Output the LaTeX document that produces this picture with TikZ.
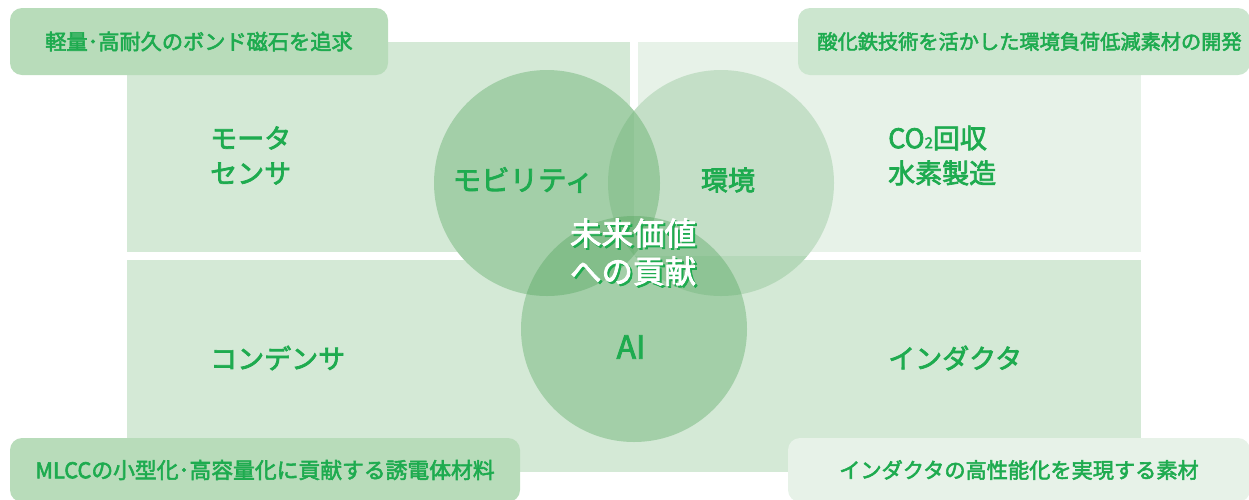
\documentclass[tikz,border=0pt]{standalone}
\usepackage{fontspec}
\setmainfont{Noto Sans CJK JP}
\newfontfamily\medjp{Noto Sans CJK JP}[FakeBold=2.6]
\definecolor{bgA}{HTML}{D4E9D6}
\definecolor{bgB}{HTML}{E7F2E8}
\definecolor{boxA}{HTML}{B8DCBA}
\definecolor{boxB}{HTML}{CCE6CF}
\definecolor{boxC}{HTML}{E7F2E8}
\definecolor{circ}{RGB}{72,159,83}
\definecolor{txt}{HTML}{1EAB4F}
\tikzset{
  tagbox/.style={rounded corners=12pt, inner sep=0pt, text=txt,
    font=\medjp\fontsize{21.2}{24}\selectfont},
  ring/.style={circle, inner sep=0pt, minimum size=226pt, fill=circ, draw=none},
  lbl/.style={text=txt, inner sep=0pt, font=\medjp\fontsize{27}{35}\selectfont, align=left},
  mid/.style={inner sep=0pt, font=\medjp\fontsize{31.5}{38}\selectfont, align=center}
}
\begin{document}
\begin{tikzpicture}[x=1pt,y=-1pt]
\useasboundingbox (0,0) rectangle (1249,499);
\clip (0,0) rectangle (1249,499);
% quadrant backgrounds with white gaps
\fill[bgA] (127,42) rectangle (630,252);
\fill[bgB] (638,42) rectangle (1141,252);
\fill[bgA] (127,260) rectangle (1141,472);
% gaps hidden inside circles
\begin{scope}
  \clip (547,183) circle[radius=113] (721,183) circle[radius=113] (634,329) circle[radius=113];
  \fill[bgA] (127,42) rectangle (634,256);
  \fill[bgB] (634,42) rectangle (1141,256);
  \fill[bgA] (127,256) rectangle (1141,472);
\end{scope}
% circles
\node[ring, fill opacity=0.35] (mob) at (547,183) {};
\node[ring, fill opacity=0.22] (env) at (721,183) {};
\node[ring, fill opacity=0.35] (ai) at (634,329) {};
% tag boxes
\node[tagbox, fill=boxA, minimum width=378pt, minimum height=67pt] (tagTL) at (199,41.5) {軽量･高耐久のボンド磁石を追求};
\node[tagbox, fill=boxB, minimum width=452pt, minimum height=67pt, font=\medjp\fontsize{20.2}{24}\selectfont] (tagTR) at (1024,41.5) {\hspace*{11pt}酸化鉄技術を活かした環境負荷低減素材の開発};
\node[tagbox, fill=boxA, minimum width=510pt, minimum height=64pt, font=\medjp\fontsize{21.8}{24}\selectfont] (tagBL) at (265,470) {MLCCの小型化･高容量化に貢献する誘電体材料};
\node[tagbox, fill=boxC, minimum width=462pt, minimum height=64pt] (tagBR) at (1019,470) {インダクタの高性能化を実現する素材};
% quadrant labels
\node[lbl, anchor=west] (motor) at (210,155.5) {モータ\\センサ};
\node[lbl, anchor=west] (co2) at (888,155.5) {CO{\fontsize{15}{15}\selectfont 2}回収\\水素製造};
\node[lbl, anchor=west] (cond) at (210,358) {コンデンサ};
\node[lbl, anchor=west] (ind) at (888,358) {インダクタ};
% circle labels
\node[lbl, font=\medjp\fontsize{28.5}{35}\selectfont] (mobt) at (523,180) {モビリティ};
\node[lbl] (envt) at (728,180) {環境};
\node[lbl, font=\medjp\fontsize{32}{35}\selectfont] (ait) at (631,347) {AI};
% centre text with shadow
\node[mid, text=txt] (ctrsh) at (635,254) {未来価値\\への貢献};
\node[mid, text=white] (ctr) at (633,252) {未来価値\\への貢献};
\end{tikzpicture}
\end{document}
